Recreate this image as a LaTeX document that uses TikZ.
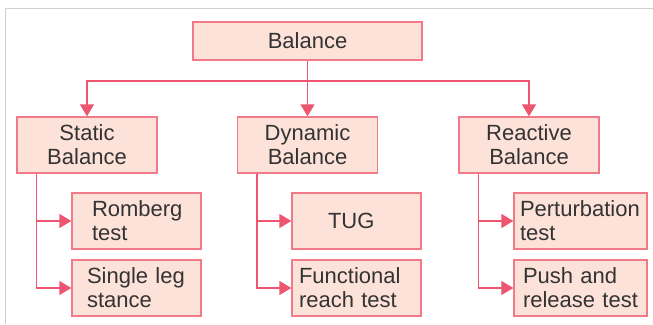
\documentclass[tikz,border=0pt]{standalone}
\usepackage{fontspec}
\setmainfont{Liberation Sans}
\usetikzlibrary{arrows.meta}
\definecolor{boxfill}{HTML}{FDE2D9}
\definecolor{boxline}{HTML}{F27A88}
\definecolor{conncol}{HTML}{EE5570}
\definecolor{txt}{HTML}{333333}
\definecolor{framecol}{HTML}{CFCFCF}
\begin{document}
\begin{tikzpicture}[x=1pt,y=-1pt,
  box/.style={draw=boxline, line width=1.3pt, fill=boxfill, text=txt,
    font=\fontsize{22}{24}\selectfont, inner ysep=0pt, minimum height=56pt},
  topbox/.style={box, minimum width=140pt, align=center},
  conn/.style={draw=conncol, line width=1.3pt},
  arr/.style={conn, -{Triangle[width=14pt,length=12pt]}}
]
\useasboundingbox (0,0) rectangle (653,324);
\draw[framecol, line width=1.5pt] (5.5,324) -- (5.5,8.5) -- (653,8.5);

\node[box, minimum width=229pt, minimum height=38pt] (bal) at (307.5,41) {Balance};

\node[topbox] (stat) at (87,145) {Static\\Balance};
\node[topbox] (dyn) at (307.5,145) {Dynamic\\Balance};
\node[topbox] (reac) at (529,145) {Reactive\\Balance};

\node[box, text width=89pt, inner xsep=20pt, align=left] (romb) at (136.5,221) {Romberg\\test};
\node[box, text width=105pt, inner xsep=12pt, align=left] (single) at (136.5,288) {\hspace*{3pt}Single leg\\\hspace*{3pt}stance};
\node[box, text width=57pt, inner xsep=36pt, align=left] (tug) at (356.5,221) {TUG};
\node[box, text width=115pt, inner xsep=7pt, align=left] (func) at (356.5,288) {Functional\\reach test};
\node[box, text width=121pt, inner xsep=6pt, align=left] (pert) at (580.5,221) {Perturbation\\test};
\node[box, text width=115pt, inner xsep=9pt, align=left] (push) at (580.5,288) {Push and\\release test};

\coordinate (j) at (307.5,81);
\draw[conn] (bal.south) -- (j);
\draw[arr] (j) -| (stat.north);
\draw[arr] (j) -| (reac.north);
\draw[arr] (j) -- (dyn.north);

\coordinate (sv) at ([xshift=20pt]stat.south west);
\coordinate (dv) at ([xshift=20pt]dyn.south west);
\coordinate (rv) at ([xshift=20pt]reac.south west);

\draw[arr] (sv) |- (single.west);
\draw[arr] (sv |- romb.west) -- (romb.west);
\draw[arr] (dv) |- (func.west);
\draw[arr] (dv |- tug.west) -- (tug.west);
\draw[arr] (rv) |- (push.west);
\draw[arr] (rv |- pert.west) -- (pert.west);
\end{tikzpicture}
\end{document}
